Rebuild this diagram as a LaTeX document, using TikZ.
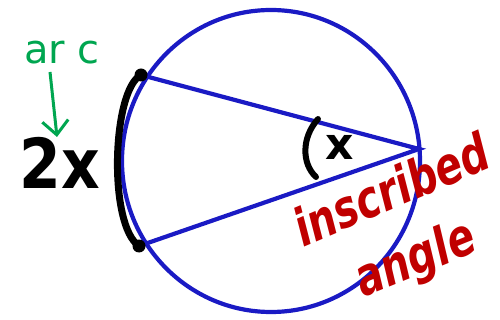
\documentclass[tikz,border=0pt]{standalone}
\usepackage{fontspec}
\setmainfont{DejaVu Sans}
\usepackage{graphicx}
\usepackage{xcolor}
\usetikzlibrary{arrows.meta,positioning,calc}
\definecolor{circblue}{RGB}{26,26,196}
\definecolor{arcgreen}{RGB}{0,166,80}
\definecolor{notered}{RGB}{192,0,0}
\tikzset{
	chord/.style={draw=circblue, line width=4.2pt},
	inkline/.style={draw=black, line width=7pt, line cap=round},
	greenarrow/.style={-{Straight Barb[length=14pt,width=26pt,line width=3pt]}, arcgreen, line width=3pt},
	handlabel/.style={inner sep=0pt, font=\bfseries},
	rednote/.style={handlabel, text=notered, font=\bfseries\itshape\fontsize{40}{40}\selectfont}
}
\begin{document}
\begin{tikzpicture}[x=1pt, y=-1pt]
	\useasboundingbox (0,0) rectangle (500,320);
	
	%% -- The circle and the two chords
	\coordinate (o) at (271,161);
	\draw[chord] (o) ellipse [x radius=149pt, y radius=151pt];
	\coordinate (top) at (141,75);
	\coordinate (bot) at (139,246);
	\coordinate (vert) at (419,149);
	\draw[chord] (top) -- (vert) -- (bot);
	
	%% -- Intercepted arc, marked in ink
	\draw[inkline] (top) .. controls (112,90) and (108,225) .. (bot);
	\fill (top) circle (6.5pt);
	\fill (bot) circle (6.5pt);
	
	%% -- Labels on the left
	\node[handlabel, font=\bfseries\fontsize{60}{60}\selectfont] (twox) at (60,163) {\scalebox{1}[1.15]{2x}};
	\node[inner sep=0pt, text=arcgreen, font=\fontsize{40}{40}\selectfont] (arcword) at (62,53) {ar c};
	\coordinate (arctail) at (50,72);
	\coordinate (archead) at (57,137);
	\draw[greenarrow] (arctail) -- (archead);
	
	%% -- Angle mark at the vertex
	\draw[inkline, line width=6pt] (318,119) .. controls (301,138) and (302,164) .. (316,177);
	\node[handlabel, font=\bfseries\fontsize{44}{44}\selectfont] (anglex) at (340,147) {x};
	
	%% -- Red note
	\node[rednote, rotate=23] (inscr) at (391,189) {\scalebox{1}[1.3]{inscribed}};
	\node[rednote, rotate=22] (anglew) at (416,261) {\scalebox{1}[1.3]{angle}};
\end{tikzpicture}
\end{document}
